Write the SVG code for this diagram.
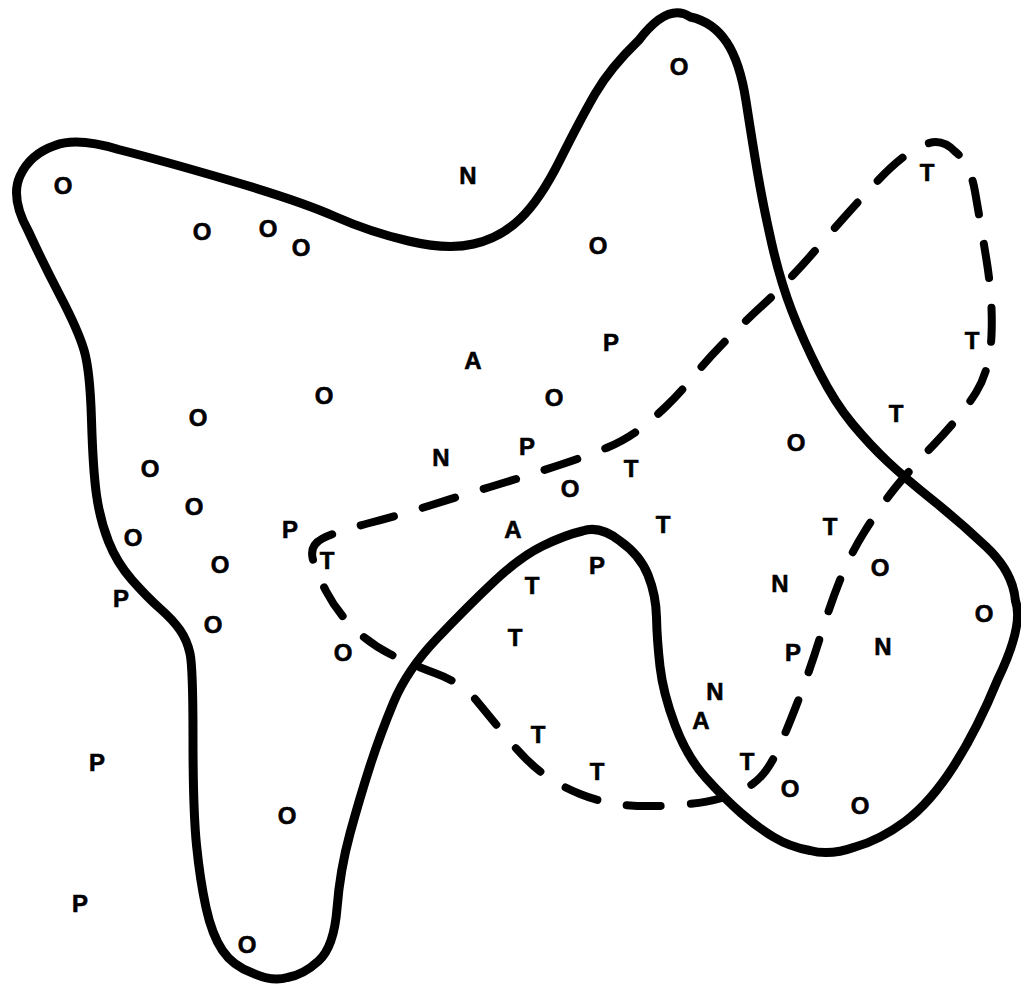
<svg xmlns="http://www.w3.org/2000/svg" width="1021" height="987" viewBox="0 0 1021 987">
<style>
.solid{fill:none;stroke:#000;stroke-width:9;stroke-linejoin:round;stroke-linecap:round}
.dash{fill:none;stroke:#000;stroke-width:8;stroke-linecap:round;stroke-dasharray:34 30}
text{font-family:"Liberation Sans",Arial,sans-serif;font-weight:bold;font-size:24px;text-anchor:middle;fill:#000;stroke:#000;stroke-width:0.6}
</style>
<rect width="1021" height="987" fill="#fff"/>
<g id="connectors">
<path id="solid-region" class="solid" d="M55,145.5 Q77,137 118.5,149.5 Q160,160 230,180.5 Q300,201 335,216.5 Q370,232 408.5,241 Q447,250 473.5,244 Q500,238 520,219 Q540,200 560,160 Q580,120 595,94 Q610,68 639,40 Q668,2 690.5,17 Q713,22 726.5,42 Q740,62 746,101 Q752,140 757.5,172.5 Q763,205 771.5,242.5 Q780,280 791.5,310 Q803,340 819,371.5 Q835,403 852.5,424 Q870,445 887.5,461.5 Q905,478 932.5,500 Q960,522 986.5,547 Q1013,572 1015.5,601 Q1024,625 997.5,680 Q977,730 953.5,766.5 Q930,803 905,821.5 Q880,840 855,847 Q830,856 810,850.5 Q790,847 773.5,837 Q757,827 741,813 Q725,799 706,778 Q687,757 675,725 Q663,693 660,666.5 Q657,640 656.5,617.5 Q656,595 648,575 Q640,555 620,541 Q600,525 582.5,531 Q565,535 542.5,546 Q520,557 493.5,582 Q467,607 437,638.5 Q407,670 393.5,702.5 Q380,735 370,766 Q360,797 350,833.5 Q340,870 337,908.5 Q334,947 318.5,961 Q303,975 287.5,977.5 Q272,982 252.5,973 Q233,966 222.5,950.5 Q212,935 206,907.5 Q200,880 196.5,845 Q193,810 193,738.5 Q193,667 190,653.5 Q187,640 180,630 Q173,620 160,608.5 Q147,597 132,580 Q117,563 108.5,541.5 Q100,520 96.5,495 Q93,470 91.5,420 Q90,370 84,350 Q78,330 60.5,296.5 Q43,263 28.5,231.5 Q10,198 20,176 Q30,154 55,145.5 Z"/>
<path id="dashed-region" class="dash" d="M312.5,557.5 Q310,545 322.5,538.5 Q335,532 367.5,523.5 Q400,515 430,505.5 Q460,496 490,487 Q520,478 555,466.5 Q590,455 607.5,447.5 Q625,440 638.5,430 Q652,420 666,406.5 Q680,393 692.5,377.5 Q705,362 722.5,344 Q740,326 765,303 Q790,280 820,245 Q850,210 877.5,181 Q905,152 922.5,146 Q940,136 955,151.5 Q970,163 975,191.5 Q980,220 986.5,260 Q993,300 991.5,335 Q990,370 976,392.5 Q962,415 933.5,445 Q905,475 891.5,492.5 Q878,510 864,532.5 Q850,555 840,580 Q830,605 820,637.5 Q810,670 796.5,705 Q783,740 774,757.5 Q765,775 752.5,784 Q740,793 720,798.5 Q700,804 670,805.5 Q640,807 620,804.5 Q600,802 580,794 Q560,786 543.5,774 Q527,762 508.5,739.5 Q490,717 476,700 Q462,683 436,673.5 Q410,664 390,654 Q370,644 353.5,628 Q337,612 326,591 Q315,570 312.5,557.5 Z"/>
</g>
<g id="labels">
<text x="63" y="194">O</text>
<text x="468" y="184">N</text>
<text x="202" y="240">O</text>
<text x="268" y="237">O</text>
<text x="301" y="256">O</text>
<text x="679" y="75">O</text>
<text x="598" y="254">O</text>
<text x="611" y="351">P</text>
<text x="473" y="369">A</text>
<text x="324" y="404">O</text>
<text x="554" y="406">O</text>
<text x="198" y="426">O</text>
<text x="441" y="466">N</text>
<text x="527" y="455">P</text>
<text x="796" y="451">O</text>
<text x="896" y="422">T</text>
<text x="927" y="181">T</text>
<text x="972" y="349">T</text>
<text x="150" y="477">O</text>
<text x="194" y="515">O</text>
<text x="570" y="497">O</text>
<text x="631" y="477">T</text>
<text x="133" y="546">O</text>
<text x="290" y="538">P</text>
<text x="327" y="569">T</text>
<text x="513" y="538">A</text>
<text x="663" y="533">T</text>
<text x="830" y="535">T</text>
<text x="220" y="573">O</text>
<text x="532" y="594">T</text>
<text x="597" y="574">P</text>
<text x="780" y="592">N</text>
<text x="880" y="576">O</text>
<text x="121" y="607">P</text>
<text x="213" y="633">O</text>
<text x="343" y="661">O</text>
<text x="515" y="646">T</text>
<text x="984" y="622">O</text>
<text x="793" y="661">P</text>
<text x="883" y="655">N</text>
<text x="715" y="700">N</text>
<text x="701" y="729">A</text>
<text x="538" y="743">T</text>
<text x="597" y="780">T</text>
<text x="747" y="770">T</text>
<text x="790" y="797">O</text>
<text x="860" y="814">O</text>
<text x="97" y="771">P</text>
<text x="287" y="824">O</text>
<text x="80" y="912">P</text>
<text x="247" y="953">O</text>
</g>
</svg>
